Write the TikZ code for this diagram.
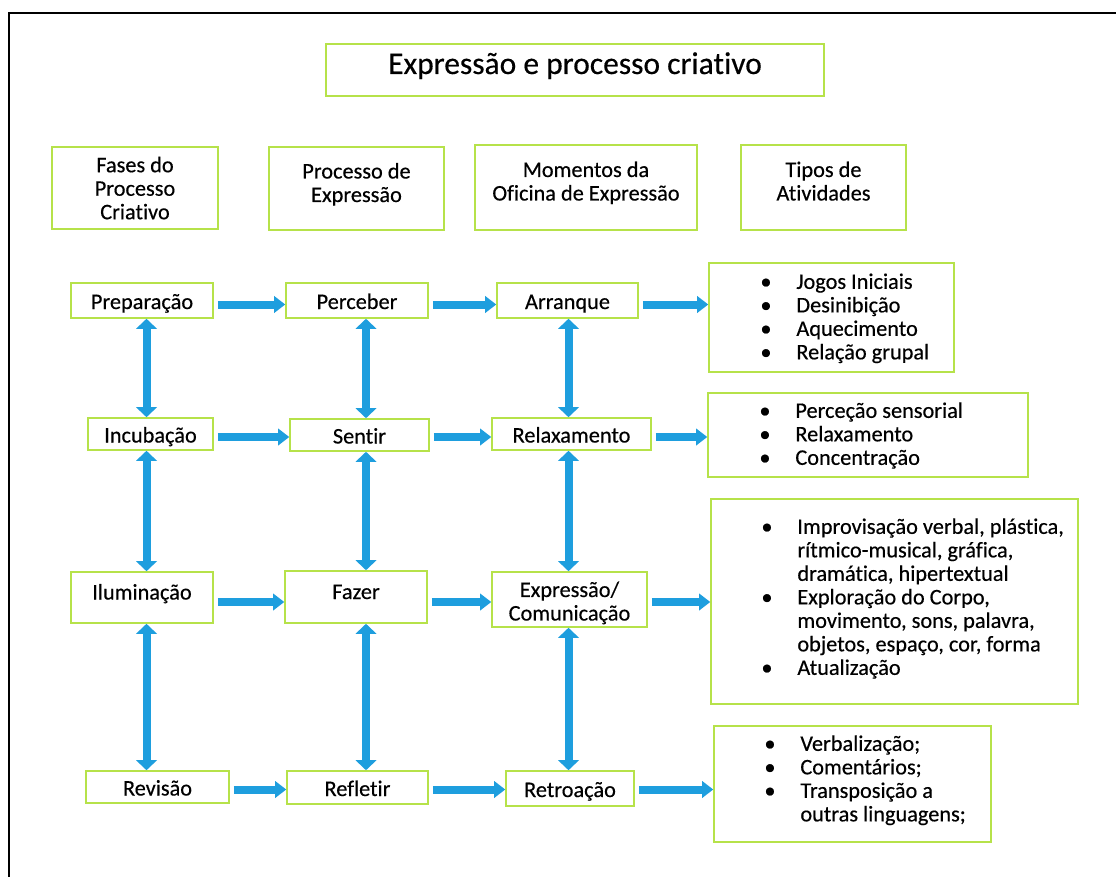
\documentclass[tikz,border=0pt]{standalone}
\usepackage{fontspec}
\setmainfont{Carlito}[Ligatures=NoCommon, FakeBold=0.4]
\usetikzlibrary{arrows.meta, calc, positioning}
\definecolor{boxGreen}{RGB}{182,226,74}
\definecolor{arrBlue}{RGB}{30,158,222}
\newcommand{\bul}{\strut\makebox[36pt][l]{\textbullet}}
\newcommand{\ind}{\hspace*{36pt}}
\newcommand{\vs}{\rule[-6pt]{0pt}{29pt}}

\begin{document}
\begin{tikzpicture}[x=1pt, y=-1pt, font=\fontsize{22.3}{23.5}\selectfont,
    txt/.style={execute at begin node=\vs, execute at end node=\vs},
    gbox/.style 2 args={draw=boxGreen, line width=1.6pt, minimum width=#1pt, minimum height=#2pt, inner sep=0pt, align=center, txt},
    harrow/.style={draw=arrBlue, line width=8pt, shorten <=4pt, -{Triangle[width=17pt,length=11pt,line width=0pt,fill=arrBlue]}},
    varrow/.style={draw=arrBlue, line width=8pt, {Triangle[width=21pt,length=10pt,line width=0pt,fill=arrBlue]}-{Triangle[width=21pt,length=10pt,line width=0pt,fill=arrBlue]}},
    list/.style={anchor=north west, align=left, inner sep=0pt}]
    \useasboundingbox (0,0) rectangle (1116,877);
    % frame, open on the right and at the bottom
    \draw[line width=2.5pt] (9,877) -- (9,13) -- (1116,13);

    % title and column heads
    \node[gbox={498}{52}, font=\fontsize{31.5}{36}\selectfont, label={[name=titleT, txt, yshift=4.5pt, font=\fontsize{31.5}{36}\selectfont]center:Expressão e processo criativo}] (title) at (575,70) {};
    \node[gbox={166}{82}, label={[name=hfaseT, align=center, txt, yshift=-3pt]center:Fases do\\Processo\\Criativo}] (hfase) at (135,188) {};
    \node[gbox={175}{83}, label={[name=hprocT, align=center, txt, yshift=3pt]center:Processo de\\Expressão}] (hproc) at (356.5,188.5) {};
    \node[gbox={222}{85}, label={[name=hmomT, align=center, txt, yshift=3.5pt]center:Momentos da\\Oficina de Expressão}] (hmom) at (586,187.5) {};
    \node[gbox={165}{85}, label={[name=htipT, align=center, txt, yshift=3.5pt]center:Tipos de\\Atividades}] (htip) at (823.5,187.5) {};

    % row 1
    \node[gbox={142}{35}] (prep) at (142,300.5) {Preparação};
    \node[gbox={142}{35}] (perc) at (357,300.5) {Perceber};
    \node[gbox={141}{35}] (arr) at (567.5,300.5) {Arranque};
    \node[gbox={245}{109}] (jogos) at (831.5,317.5) {};
    \node[list] (jogosT) at ([xshift=52pt, yshift=-10pt]jogos.north west)
        {\bul Jogos Iniciais\\ \bul Desinibição\\ \bul Aquecimento\\ \bul Relação grupal};

    % row 2
    \node[gbox={125}{32}] (incub) at (150.5,434) {Incubação};
    \node[gbox={139}{32}] (sentir) at (359.5,435) {Sentir};
    \node[gbox={159}{32}] (relax) at (571.5,434) {Relaxamento};
    \node[gbox={320}{84}] (perce) at (868,435) {};
    \node[list] (perceT) at ([xshift=52pt, yshift=-9pt]perce.north west)
        {\bul Perceção sensorial\\ \bul Relaxamento\\ \bul Concentração};

    % row 3
    \node[gbox={142}{51}, label={[name=ilumT, txt, yshift=6.5pt]center:Iluminação}] (ilum) at (142,597.5) {};
    \node[gbox={142}{52}, label={[name=fazerT, txt, yshift=6.5pt]center:Fazer}] (fazer) at (356,597) {};
    \node[gbox={155}{55}, label={[name=exprT, align=center, txt, yshift=-4.5pt]center:Expressão/\\Comunicação}] (expr) at (569.5,599.5) {};
    \node[gbox={367}{205}] (improv) at (894.5,601.5) {};
    \node[list] (improvT) at ([xshift=51pt, yshift=-19pt]improv.north west)
        {\bul Improvisação verbal, plástica,\\ \ind rítmico-musical, gráfica,\\ \ind dramática, hipertextual\\
         \bul Exploração do Corpo,\\ \ind movimento, sons, palavra,\\ \ind objetos, espaço, cor, forma\\ \bul Atualização};

    % row 4
    \node[gbox={143}{32}] (rev) at (157.5,787) {Revisão};
    \node[gbox={141}{33}] (refl) at (357.5,787.5) {Refletir};
    \node[gbox={128}{35}] (retro) at (570,788.5) {Retroação};
    \node[gbox={277}{116}] (verbal) at (852.5,784) {};
    \node[list] (verbalT) at ([xshift=51pt, yshift=-9pt]verbal.north west)
        {\bul Verbalização;\\ \bul Comentários;\\ \bul Transposição a\\ \ind outras linguagens;};

    % arrow rows and columns
    \coordinate (r1) at (0,304.5);
    \coordinate (r2) at (0,437);
    \coordinate (r3) at (0,602);
    \coordinate (r4) at (0,789.5);
    \coordinate (c1) at (146.5,0);
    \coordinate (c2) at (366,0);
    \coordinate (c3) at (568.5,0);

    \draw[harrow] (prep.east |- r1) -- (perc.west |- r1);
    \draw[harrow] (perc.east |- r1) -- (arr.west |- r1);
    \draw[harrow] (arr.east |- r1) -- (jogos.west |- r1);
    \draw[harrow] (incub.east |- r2) -- (sentir.west |- r2);
    \draw[harrow] (sentir.east |- r2) -- (relax.west |- r2);
    \draw[harrow] (relax.east |- r2) -- (perce.west |- r2);
    \draw[harrow] (ilum.east |- r3) -- (fazer.west |- r3);
    \draw[harrow] (fazer.east |- r3) -- (expr.west |- r3);
    \draw[harrow] (expr.east |- r3) -- (improv.west |- r3);
    \draw[harrow] (rev.east |- r4) -- (refl.west |- r4);
    \draw[harrow] (refl.east |- r4) -- (retro.west |- r4);
    \draw[harrow] (retro.east |- r4) -- (verbal.west |- r4);

    \draw[varrow] (prep.south -| c1) -- (incub.north -| c1);
    \draw[varrow] (incub.south -| c1) -- (ilum.north -| c1);
    \draw[varrow] (ilum.south -| c1) -- (rev.north -| c1);
    \draw[varrow] (perc.south -| c2) -- (sentir.north -| c2);
    \draw[varrow] (sentir.south -| c2) -- (fazer.north -| c2);
    \draw[varrow] (fazer.south -| c2) -- (refl.north -| c2);
    \draw[varrow] (arr.south -| c3) -- (relax.north -| c3);
    \draw[varrow] (relax.south -| c3) -- (expr.north -| c3);
    \draw[varrow] (expr.south -| c3) -- (retro.north -| c3);
\end{tikzpicture}
\end{document}
